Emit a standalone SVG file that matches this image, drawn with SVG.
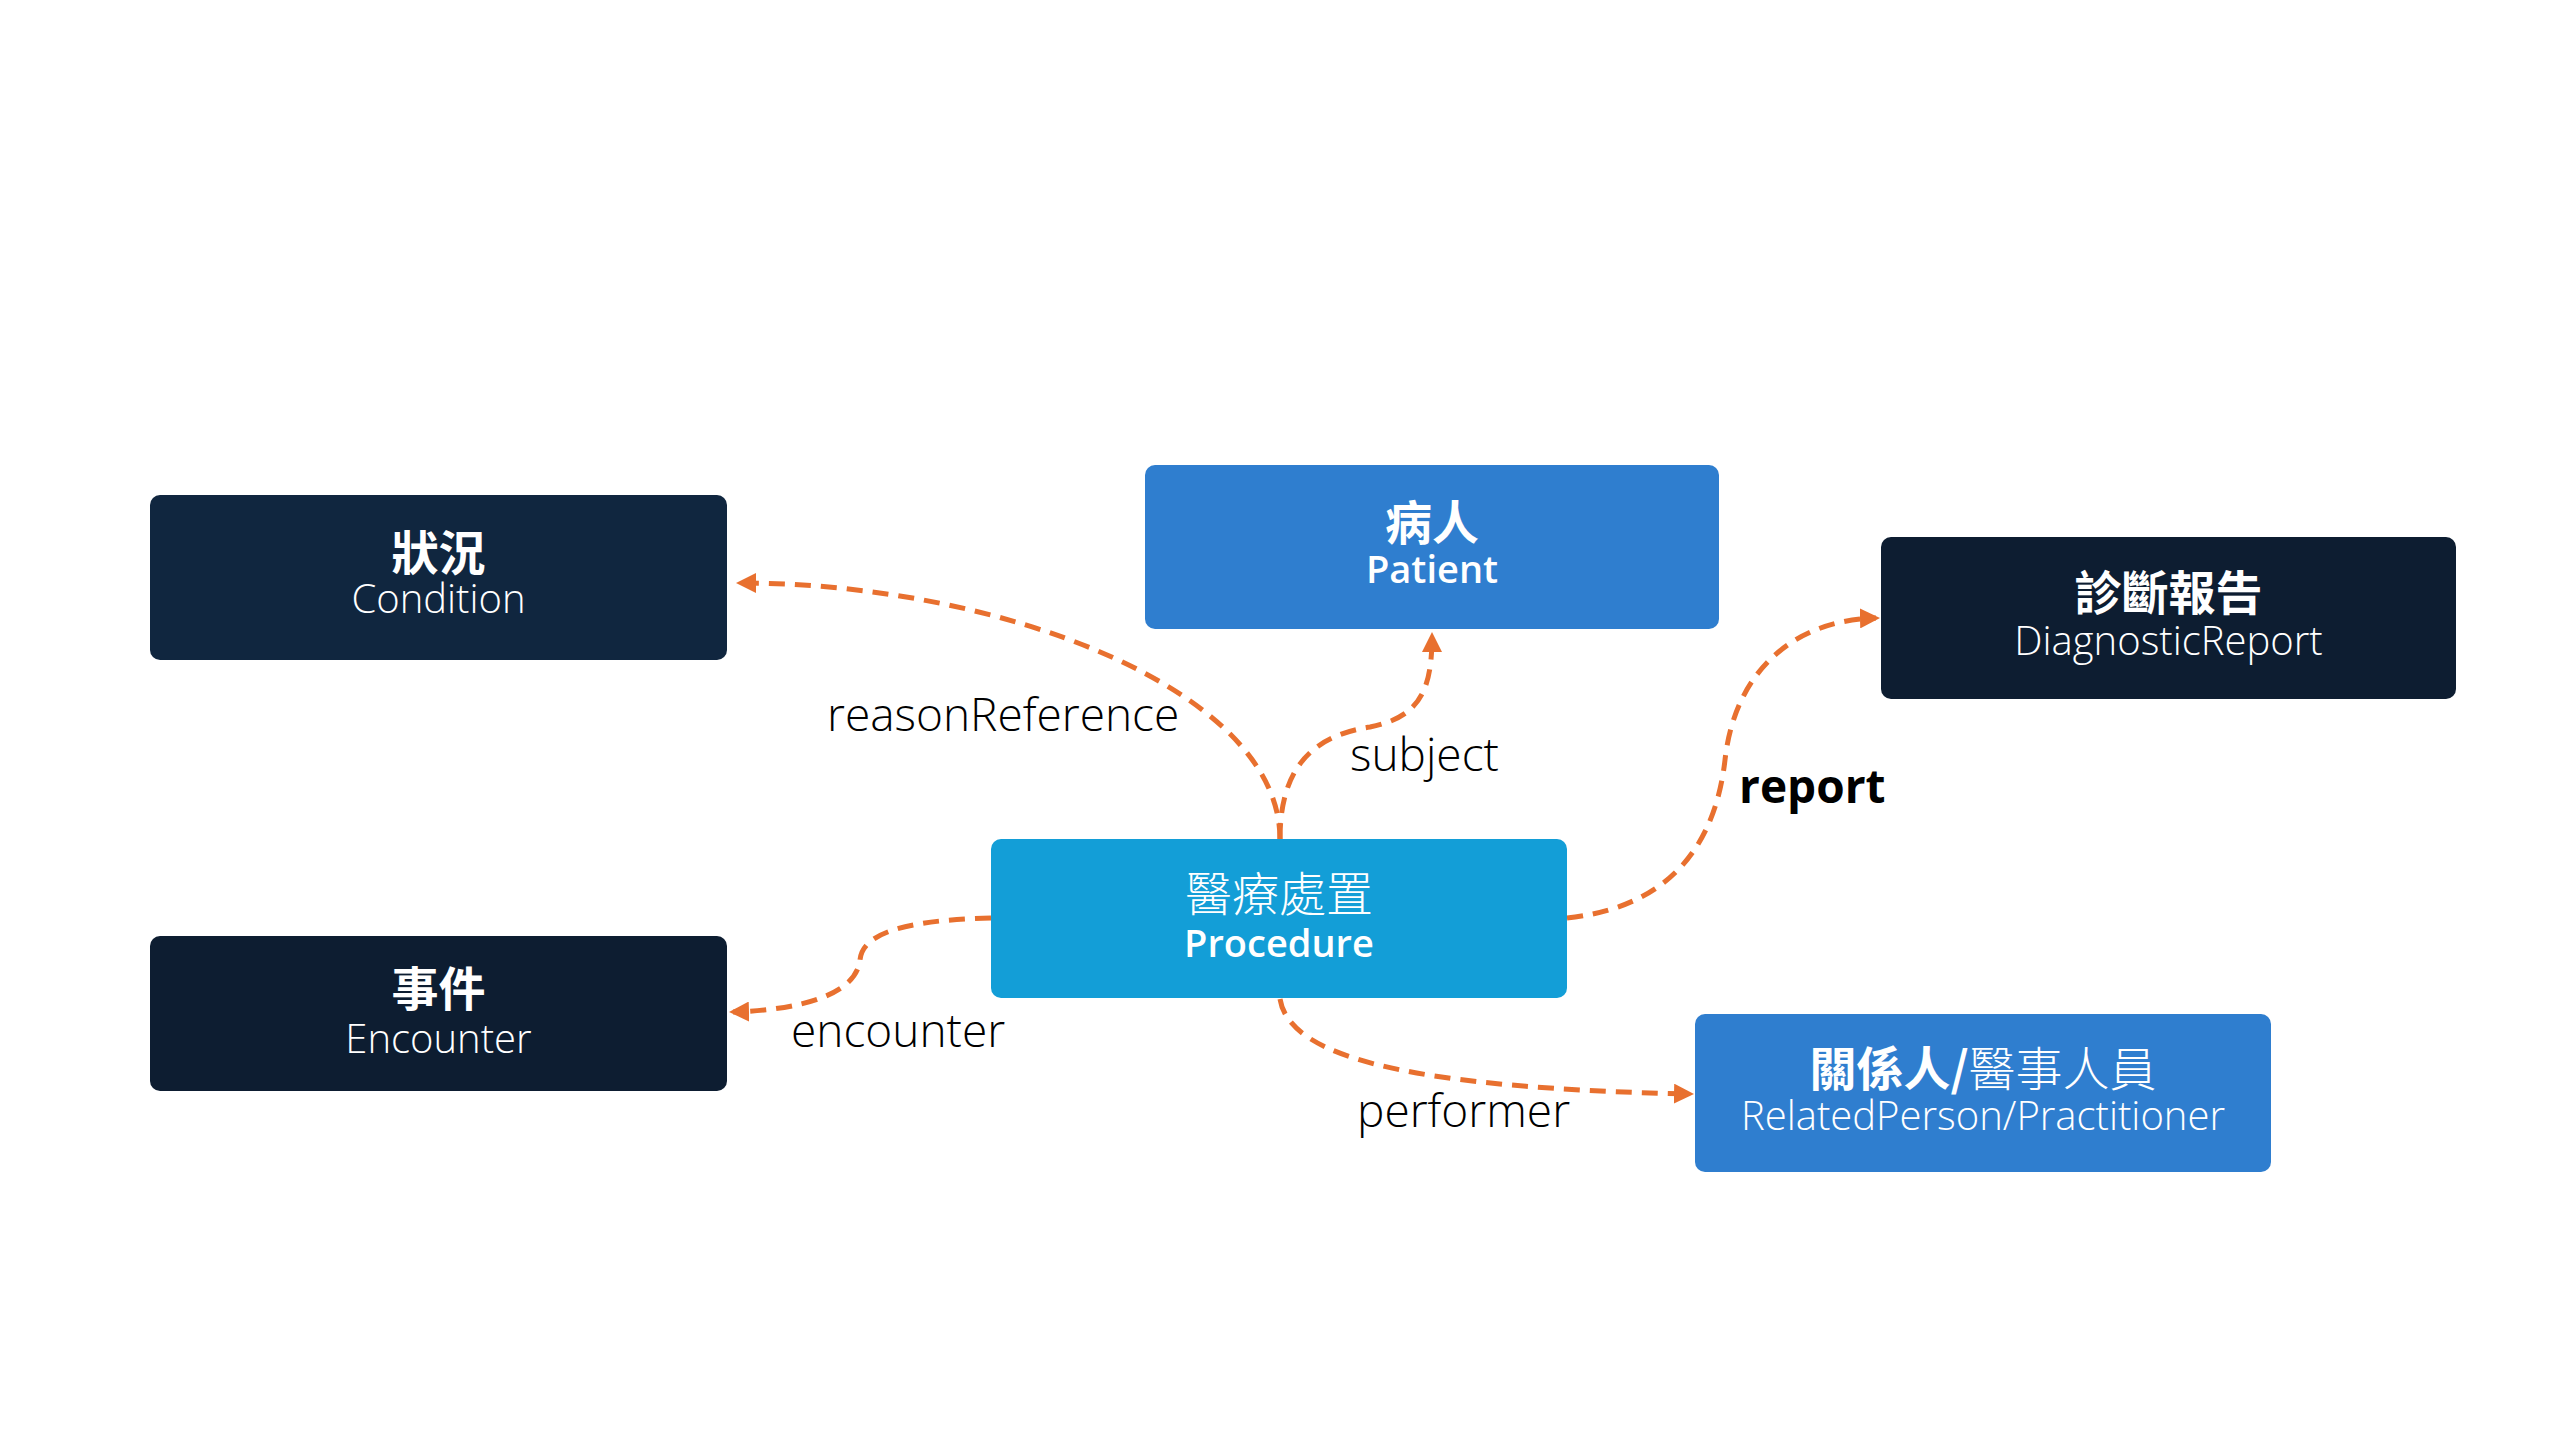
<svg xmlns="http://www.w3.org/2000/svg" width="2560" height="1440" viewBox="0 0 2560 1440">
<defs>
<style>
.bg{fill:#ffffff}
.box{stroke:none}
.dark1{fill:#10263F}
.dark2{fill:#0D1D31}
.blue{fill:#2F7ECF}
.cyan{fill:#139ED7}
.zh{font-family:"Noto Sans CJK TC","Noto Sans CJK SC",sans-serif;font-size:47px;fill:#ffffff;text-anchor:middle}
.zhb{font-weight:700}
.zhl{font-weight:300}
.en{font-family:"Open Sans","Noto Sans","Liberation Sans",sans-serif;font-size:40px;fill:#ffffff;text-anchor:middle;font-weight:300}
.enb{font-weight:600;font-size:38px}
.lbl{font-family:"Open Sans","Noto Sans","Liberation Sans",sans-serif;font-size:46px;fill:#000000;font-weight:300}
.lblb{font-weight:700}
.conn{fill:none;stroke:#E8702F;stroke-width:5;stroke-dasharray:16 10}
</style>
<marker id="arr" viewBox="0 0 10 10" refX="8" refY="5" markerWidth="4" markerHeight="4" orient="auto" markerUnits="strokeWidth">
<path d="M0,0 L10,5 L0,10 z" fill="#E8702F"/>
</marker>
</defs>
<rect class="bg" x="0" y="0" width="2560" height="1440"/>

<g id="connectors">
<path id="c-reason" class="conn" d="M1280,839 C1280,690 1000,583 740,583" marker-end="url(#arr)"/>
<path id="c-subject" class="conn" d="M1280,839 C1280,760 1320,735 1370,727 C1420,717 1432,690 1432,636" marker-end="url(#arr)"/>
<path id="c-report" class="conn" d="M1567,918 C1690,905 1718,820 1725,760 C1735,670 1795,620 1876,618" marker-end="url(#arr)"/>
<path id="c-encounter" class="conn" d="M991,918 C900,920 862,935 860,960 C856,995 800,1010 733,1012" marker-end="url(#arr)"/>
<path id="c-performer" class="conn" d="M1280,999 C1290,1060 1420,1088 1690,1094" marker-end="url(#arr)"/>
</g>

<g id="labels">
<text class="lbl" x="827" y="731">reasonReference</text>
<text class="lbl" x="1350" y="771">subject</text>
<text class="lbl lblb" x="1739" y="803">report</text>
<text class="lbl" x="791" y="1047">encounter</text>
<text class="lbl" x="1357" y="1127">performer</text>
</g>

<g id="node-condition">
<rect class="box dark1" x="150" y="495" width="577" height="165" rx="10"/>
<text class="zh zhb" x="438.5" y="570">狀況</text>
<text class="en" x="438.5" y="613">Condition</text>
</g>

<g id="node-patient">
<rect class="box blue" x="1145" y="465" width="574" height="164" rx="10"/>
<text class="zh zhb" x="1432" y="540">病人</text>
<text class="en enb" x="1432" y="583">Patient</text>
</g>

<g id="node-diagnosticreport">
<rect class="box dark2" x="1881" y="537" width="575" height="162" rx="10"/>
<text class="zh zhb" x="2168.5" y="610">診斷報告</text>
<text class="en" x="2168.5" y="655">DiagnosticReport</text>
</g>

<g id="node-procedure">
<rect class="box cyan" x="991" y="839" width="576" height="159" rx="10"/>
<text class="zh zhl" x="1279" y="911">醫療處置</text>
<text class="en enb" x="1279" y="957">Procedure</text>
</g>

<g id="node-encounter">
<rect class="box dark2" x="150" y="936" width="577" height="155" rx="10"/>
<text class="zh zhb" x="438.5" y="1006">事件</text>
<text class="en" x="438.5" y="1053">Encounter</text>
</g>

<g id="node-relatedperson">
<rect class="box blue" x="1695" y="1014" width="576" height="158" rx="10"/>
<text class="zh" x="1983" y="1086"><tspan font-weight="700">關係人/</tspan><tspan font-weight="300">醫事人員</tspan></text>
<text class="en" x="1983" y="1130">RelatedPerson/Practitioner</text>
</g>
</svg>
